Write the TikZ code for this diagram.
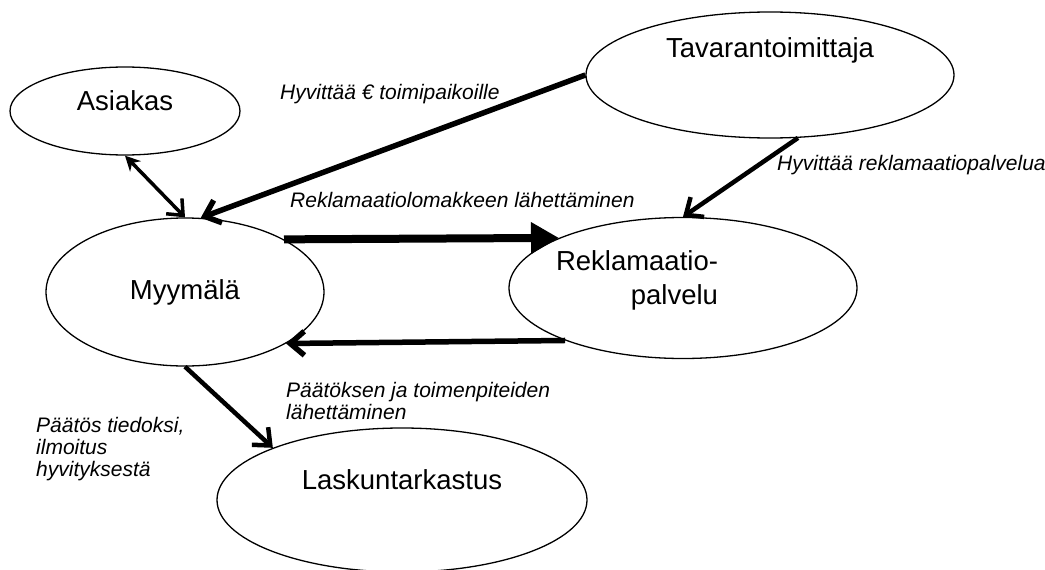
\documentclass[tikz,border=0pt]{standalone}
\usepackage{fontspec}
\setmainfont{Liberation Sans}
\usetikzlibrary{arrows.meta, shapes.geometric}

\tikzset{
    ent/.style={ellipse, draw, line width=1.3pt, inner sep=0pt},
    enttext/.style={font=\fontsize{27.5}{34}\selectfont},
    lbl/.style={anchor=north west, inner sep=0pt, align=left, font=\fontsize{21}{22}\selectfont\itshape},
    flow/.style={line width=4.5pt, -{Straight Barb[length=14pt,width=24pt]}}
}

\begin{document}
\begin{tikzpicture}[x=1pt, y=-1pt]
    \useasboundingbox (0,0) rectangle (1045,570);
    \node[ent, minimum width=230pt, minimum height=88pt, label={[enttext, yshift=10pt]center:Asiakas}] (asiakas) at (125,111) {};
    \node[ent, minimum width=368pt, minimum height=126pt, label={[enttext, yshift=25pt]center:Tavarantoimittaja}] (tav) at (770,75) {};
    \node[ent, minimum width=278pt, minimum height=148pt, label={[enttext]center:Myymälä}] (myymala) at (185,292) {};
    \node[ent, minimum width=348pt, minimum height=141pt, label={[enttext, align=right, xshift=-46pt, yshift=8pt]center:Reklamaatio-\\palvelu}] (rek) at (683,288) {};
    \node[ent, minimum width=370pt, minimum height=144pt, label={[enttext, yshift=20pt]center:Laskuntarkastus}] (lasku) at (402,500) {};
    \draw[line width=3.5pt, {Stealth[length=15pt,width=15pt]}-{Straight Barb[length=13pt,width=22pt]}] (asiakas.south) -- (myymala.north);
    \draw[flow, line width=5.5pt] (tav.west) -- (myymala.78);
    \draw[flow] (tav.-66) -- (rek.north);
    \draw[line width=8pt, -{Triangle[length=28pt,width=30pt]}] (myymala.28) -- (rek.158);
    \draw[flow, line width=5.5pt] (rek.204) -- (myymala.-27);
    \draw[flow] (myymala.south) -- (lasku.158);
    \node[lbl] (hyvmyy) at (280,84) {Hyvittää € toimipaikoille};
    \node[lbl] (lomake) at (290,192) {Reklamaatiolomakkeen lähettäminen};
    \node[lbl] (hyvrek) at (777,155) {Hyvittää reklamaatiopalvelua};
    \node[lbl] (paatos) at (286,382) {Päätöksen ja toimenpiteiden\\lähettäminen};
    \node[lbl] (tiedoksi) at (36,417) {Päätös tiedoksi,\\ilmoitus\\hyvityksestä};
\end{tikzpicture}
\end{document}
